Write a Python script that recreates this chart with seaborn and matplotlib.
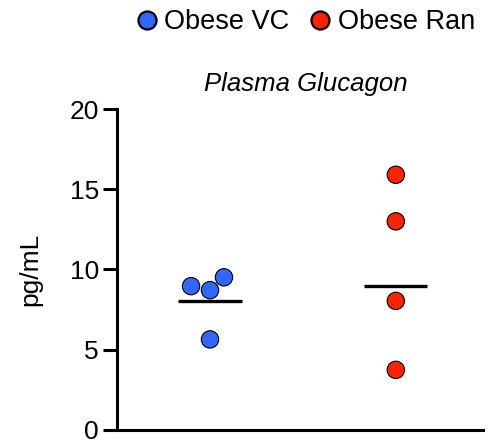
import matplotlib
matplotlib.use("Agg")
import matplotlib.pyplot as plt
from matplotlib.lines import Line2D
import seaborn as sns
import pandas as pd

# Data
groups = ["Obese VC", "Obese Ran"]
vc_values = [8.96, 8.71, 9.51, 5.64]
ran_values = [15.9, 13.0, 8.04, 3.74]
center_lines = [8.05, 8.95]
colors = ["#3366FF", "#FF2200"]

df = pd.DataFrame({
    "group": [groups[0]] * len(vc_values) + [groups[1]] * len(ran_values),
    "value": vc_values + ran_values,
})

sns.set_style("white")
plt.rcParams["font.family"] = ["Liberation Sans", "DejaVu Sans"]
plt.rcParams["text.color"] = "black"
plt.rcParams["axes.labelcolor"] = "black"
plt.rcParams["ytick.color"] = "black"

fig = plt.figure(figsize=(4.9, 4.45), dpi=100)
ax = fig.add_axes([0.239, 0.034, 0.747, 0.721])

sns.swarmplot(data=df, x="group", y="value", hue="group", palette=colors,
              order=groups, size=12.5, edgecolor="black", linewidth=0.8,
              legend=False, ax=ax)

ax.hlines(center_lines, [i - 0.17 for i in range(len(groups))],
          [i + 0.17 for i in range(len(groups))], colors="black", linewidth=2.4)

ax.set_xlim(-0.5, 1.47)
ax.set_ylim(0, 20)
ax.set_yticks([0, 5, 10, 15, 20])
ax.set_xticks([])
ax.set_xlabel("")
ax.set_ylabel("pg/mL", fontsize=19)
ax.yaxis.set_label_coords(-0.205, 0.5)
ax.set_title("Plasma Glucagon", fontsize=18.5, style="italic", pad=13, x=0.515)
ax.tick_params(axis="y", labelsize=19, length=10, width=2.2, direction="out",
               left=True, pad=3, colors="black")
for side in ["top", "right"]:
    ax.spines[side].set_visible(False)
for side in ["left", "bottom"]:
    ax.spines[side].set_linewidth(2.2)
    ax.spines[side].set_color("black")
ax.spines["left"].set_bounds(0, 20)

handles = [Line2D([], [], marker="o", linestyle="", markersize=13,
                  markerfacecolor=c, markeredgecolor="black", markeredgewidth=1.6)
           for c in colors]
fig.legend(handles, groups, loc="center", bbox_to_anchor=(0.607, 0.95), ncol=2,
           frameon=False, fontsize=19.5, handletextpad=-0.35, columnspacing=0.15)

fig.savefig("out.png", dpi=100)
